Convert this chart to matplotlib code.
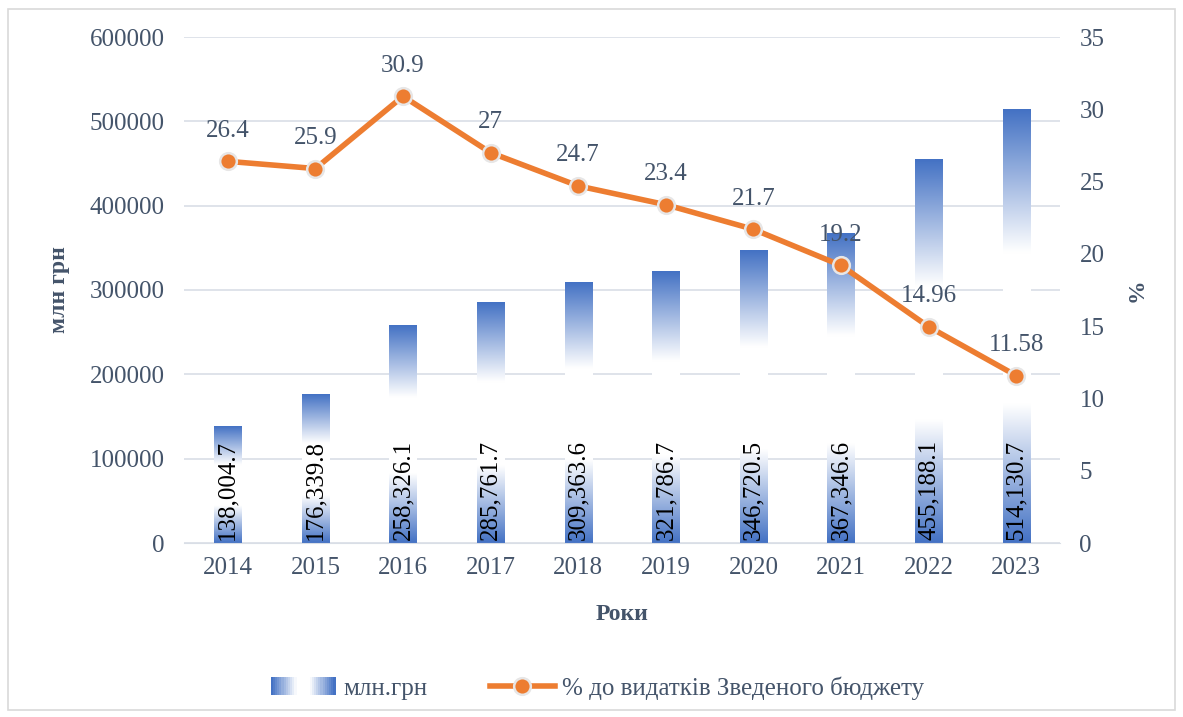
import matplotlib
matplotlib.use("Agg")
import matplotlib.pyplot as plt
import numpy as np
from matplotlib.patches import Rectangle
from matplotlib.legend_handler import HandlerBase
from matplotlib.colors import LinearSegmentedColormap

plt.rcParams['font.family'] = ['Liberation Serif', 'DejaVu Serif']

years = ['2014', '2015', '2016', '2017', '2018', '2019', '2020', '2021', '2022', '2023']
mln_uah = [138004.7, 176339.8, 258326.1, 285761.7, 309363.6, 321786.7, 346720.5, 367346.6, 455188.1, 514130.7]
pct_budget = [26.4, 25.9, 30.9, 27, 24.7, 23.4, 21.7, 19.2, 14.96, 11.58]
bar_labels = ['138,004.7', '176,339.8', '258,326.1', '285,761.7', '309,363.6',
              '321,786.7', '346,720.5', '367,346.6', '455,188.1', '514,130.7']
pct_labels = ['26.4', '25.9', '30.9', '27', '24.7', '23.4', '21.7', '19.2', '14.96', '11.58']

BLUE = '#4472C4'
ORANGE = '#ED7D31'
TXT = '#44546A'
GRID = '#D9DEE6'

# градієнт стовпців: синій зверху, білий посередині, синій біля основи
grad = LinearSegmentedColormap.from_list(
    'g', [(0.0, BLUE), (0.33, '#FFFFFF'), (0.68, '#FFFFFF'), (1.0, BLUE)])

fig = plt.figure(figsize=(11.83, 7.17), dpi=100)
fig.patches.append(Rectangle((0.007, 0.01), 0.986, 0.978, transform=fig.transFigure,
                             fill=False, edgecolor='#D9D9D9', linewidth=1.2))

ax = fig.add_axes([184 / 1183, 1 - 543 / 717, (1060 - 184) / 1183, (543 - 37) / 717])
ax2 = ax.twinx()

x = np.arange(len(years))
bw = 0.31
img = np.linspace(0, 1, 256).reshape(-1, 1)
for xi, v, lab in zip(x, mln_uah, bar_labels):
    ax.imshow(img, cmap=grad, extent=(xi - bw / 2, xi + bw / 2, 0, v), aspect='auto',
              origin='upper', interpolation='bilinear', zorder=2)
    ax.text(xi, 4000, lab, rotation=90, ha='center', va='bottom', fontsize=18,
            color='black', zorder=3)

ax.set_xlim(-0.5, len(years) - 0.5)
ax.set_ylim(0, 600000)
ax.set_yticks(np.arange(0, 600001, 100000))
ax.set_xticks(x)
ax.set_xticklabels(years)
ax.grid(axis='y', color=GRID, linewidth=1.2, zorder=0)
ax.set_axisbelow(True)
for s in ax.spines.values():
    s.set_visible(False)
ax.spines['bottom'].set_visible(True)
ax.spines['bottom'].set_color(GRID)
ax.tick_params(length=0, labelsize=18, labelcolor=TXT, pad=14)
ax.tick_params(axis='x', pad=10)
ax.set_ylabel('млн грн', fontsize=17, fontweight='bold', color=TXT, labelpad=14)
ax.set_xlabel('Роки', fontsize=17, fontweight='bold', color=TXT, labelpad=18)

ax2.plot(x, pct_budget, color=ORANGE, linewidth=4, marker='o', markersize=12,
         markerfacecolor=ORANGE, markeredgecolor='#E7E6E6', markeredgewidth=1.8, zorder=5)
for xi, v, lab in zip(x, pct_budget, pct_labels):
    ax2.annotate(lab, (xi, v), xytext=(0, 14), textcoords='offset points',
                 ha='center', va='bottom', fontsize=18, color=TXT)
ax2.set_ylim(0, 35)
ax2.set_yticks(np.arange(0, 36, 5))
for s in ax2.spines.values():
    s.set_visible(False)
ax2.tick_params(length=0, labelsize=18, labelcolor=TXT, pad=14)
ax2.set_ylabel('%', fontsize=17, fontweight='bold', color=TXT, labelpad=16)


class GradHandler(HandlerBase):
    def create_artists(self, legend, orig_handle, xd, yd, width, height, fontsize, trans):
        cols = LinearSegmentedColormap.from_list(
            'h', [(0.0, BLUE), (0.4, '#FFFFFF'), (0.6, '#FFFFFF'), (1.0, BLUE)])
        n = 30
        arts = []
        for i in range(n):
            r = Rectangle((xd + width * i / n, yd), width / n + 0.3, height,
                          facecolor=cols(i / (n - 1)), edgecolor='none', transform=trans)
            arts.append(r)
        return arts


bar_handle = Rectangle((0, 0), 1, 1)
line_handle, = ax2.plot([], [], color=ORANGE, linewidth=4, marker='o', markersize=12,
                        markerfacecolor=ORANGE, markeredgecolor='#E7E6E6', markeredgewidth=1.8)
fig.legend([bar_handle, line_handle], ['млн.грн', '% до видатків Зведеного бюджету'],
           handler_map={Rectangle: GradHandler()}, loc='center', bbox_to_anchor=(0.505, 1 - 688 / 717),
           ncol=2, frameon=False, prop={'family': ['Liberation Serif', 'DejaVu Serif'], 'size': 18},
           labelcolor=TXT, handlelength=2.6, columnspacing=2.5, handletextpad=0.3)

fig.savefig('out.png', dpi=100)
